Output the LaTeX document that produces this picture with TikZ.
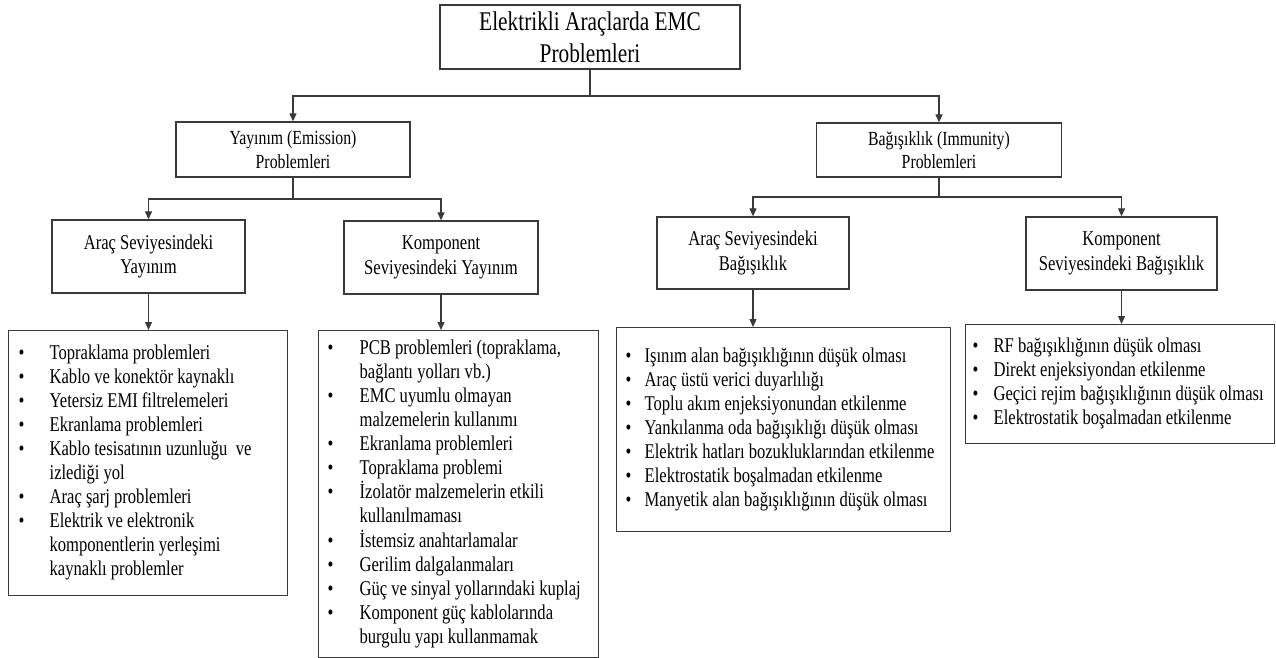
\documentclass[tikz,border=0pt]{standalone}
\usepackage{fontspec}
\setmainfont{Liberation Serif}[FakeStretch=0.79]
\usetikzlibrary{arrows.meta}
\definecolor{linegray}{HTML}{3A3A3A}

\begin{document}
\begin{tikzpicture}[x=1pt, y=-1pt,
	box/.style={draw=linegray, line width=1.3pt, align=center, inner sep=0pt},
	listbox/.style={draw=linegray, line width=1.3pt, anchor=north west, align=left, inner ysep=0pt,
		execute at begin node={\spaceskip=0pt\xspaceskip=0pt}},
	conn/.style={draw=linegray, line width=1.2pt},
	arr/.style={conn, -{Triangle[length=8pt, width=7pt]}},
	big/.style={font=\fontsize{27}{31.7}\selectfont},
	mid/.style={font=\fontsize{20}{23.5}\selectfont},
	sub/.style={font=\fontsize{21}{24.3}\selectfont},
	itm/.style={font=\fontsize{21}{24}\selectfont}]
		\useasboundingbox (0,0) rectangle (1276,658);
		
		%top box
		\node (top) at (590,37) [box, big, minimum width=300pt, minimum height=64pt]{Elektrikli Araçlarda EMC\\Problemleri};
		
		%second level
		\node (yay) at (293,149.5) [box, mid, minimum width=234pt, minimum height=55pt]{Yayınım (Emission)\\Problemleri};
		\node (bag) at (939,150) [box, mid, minimum width=245pt, minimum height=54pt]{Bağışıklık (Immunity)\\Problemleri};
		
		%third level
		\node (araY) at (148.5,256.5) [box, sub, minimum width=193pt, minimum height=73pt]{Araç Seviyesindeki\\Yayınım};
		\node (komY) at (441,257.5) [box, sub, minimum width=194pt, minimum height=73pt]{Komponent\\Seviyesindeki Yayınım};
		\node (araB) at (753,253) [box, sub, minimum width=192pt, minimum height=72pt]{Araç Seviyesindeki\\Bağışıklık};
		\node (komB) at (1121.5,253.5) [box, sub, minimum width=191pt, minimum height=73pt]{Komponent\\Seviyesindeki Bağışıklık};
		
		%lists
		\node (lst1) at (8,330) [listbox, itm, inner xsep=10pt, text width=259pt, minimum height=265pt]{%
			\begin{tabular}{@{}p{31pt}@{}l@{}}
				\textbullet & Topraklama problemleri\\
				\textbullet & Kablo ve konektör kaynaklı\\
				\textbullet & Yetersiz EMI filtrelemeleri\\
				\textbullet & Ekranlama problemleri\\
				\textbullet & Kablo tesisatının uzunluğu\ \ ve\\
				& izlediği yol\\
				\textbullet & Araç şarj problemleri\\
				\textbullet & Elektrik ve elektronik\\
				& komponentlerin yerleşimi\\
				& kaynaklı problemler\\
			\end{tabular}};
		\node (lst2) at (318,330) [listbox, itm, inner xsep=9pt, text width=262pt, minimum height=327pt]{%
			\begin{tabular}{@{}p{32pt}@{}l@{}}
				\textbullet & PCB problemleri (topraklama,\\
				& bağlantı yolları vb.)\\
				\textbullet & EMC uyumlu olmayan\\
				& malzemelerin kullanımı\\
				\textbullet & Ekranlama problemleri\\
				\textbullet & Topraklama problemi\\
				\textbullet & İzolatör malzemelerin etkili\\
				& kullanılmaması\\
				\textbullet & İstemsiz anahtarlamalar\\
				\textbullet & Gerilim dalgalanmaları\\
				\textbullet & Güç ve sinyal yollarındaki kuplaj\\
				\textbullet & Komponent güç kablolarında\\
				& burgulu yapı kullanmamak\\
			\end{tabular}};
		\node (lst3) at (616,327) [listbox, itm, inner xsep=9pt, text width=316pt, minimum height=204pt]{%
			\begin{tabular}{@{}p{19pt}@{}l@{}}
				\textbullet & Işınım alan bağışıklığının düşük olması\\
				\textbullet & Araç üstü verici duyarlılığı\\
				\textbullet & Toplu akım enjeksiyonundan etkilenme\\
				\textbullet & Yankılanma oda bağışıklığı düşük olması\\
				\textbullet & Elektrik hatları bozukluklarından etkilenme\\
				\textbullet & Elektrostatik boşalmadan etkilenme\\
				\textbullet & Manyetik alan bağışıklığının düşük olması\\
			\end{tabular}};
		\node (lst4) at (965,324) [listbox, itm, inner xsep=7pt, text width=295pt, minimum height=119pt]{%
			\begin{tabular}{@{}p{21pt}@{}l@{}}
				\textbullet & RF bağışıklığının düşük olması\\
				\textbullet & Direkt enjeksiyondan etkilenme\\
				\textbullet & Geçici rejim bağışıklığının düşük olması\\
				\textbullet & Elektrostatik boşalmadan etkilenme\\
			\end{tabular}};
		
		%connectors
		\coordinate (j0) at (590,96);
		\coordinate (j1) at (293,199);
		\coordinate (j2) at (939,197);
		\draw[conn] (top.south) -- (j0);
		\draw[arr] (j0) -| (yay.north);
		\draw[arr] (j0) -| (bag.north);
		\draw[conn] (yay.south) -- (j1);
		\draw[arr] (j1) -| (araY.north);
		\draw[arr] (j1) -| (komY.north);
		\draw[conn] (bag.south) -- (j2);
		\draw[arr] (j2) -| (araB.north);
		\draw[arr] (j2) -| (komB.north);
		\draw[arr] (araY.south) -- (araY.south |- lst1.north);
		\draw[arr] (komY.south) -- (komY.south |- lst2.north);
		\draw[arr] (araB.south) -- (araB.south |- lst3.north);
		\draw[arr] (komB.south) -- (komB.south |- lst4.north);
\end{tikzpicture}
\end{document}
